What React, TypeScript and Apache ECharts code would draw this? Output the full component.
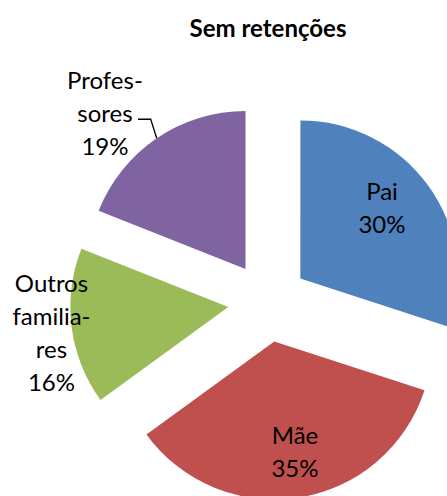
import React, { useEffect, useRef } from "react";
import * as echarts from "echarts";

const chartTitle = "Sem retenções";
const categories = ["Pai", "Mãe", "Outros familiares", "Professores"];
const labelTexts = ["Pai", "Mãe", "Outros\nfamilia-\nres", "Profes-\nsores"];
const percentages = [30, 35, 16, 19];
const colors = ["#4F81BD", "#C0504D", "#9BBB59", "#8064A2"];

// layout constants (not data)
const CX = 268;
const CY = 302;
const R = 158;
const OFFSET = 40;
// label placement: distance from pie centre and angular nudge from slice bisector
const labelPlace = [
  { dist: 148.7, nudge: -3.95, leader: false },
  { dist: 151.9, nudge: -1.24, leader: false },
  { dist: 218.5, nudge: -0.56, leader: false },
  { dist: 249.6, nudge: -6.58, leader: true },
];

function bisectorAngles(values: number[]): number[] {
  const total = values.reduce((a, b) => a + b, 0);
  let cum = 0;
  return values.map((v) => {
    const mid = cum + v / 2;
    cum += v;
    return (mid / total) * 360;
  });
}

function polar(deg: number, d: number, ox = CX, oy = CY): [number, number] {
  const a = (deg * Math.PI) / 180;
  return [ox + d * Math.sin(a), oy - d * Math.cos(a)];
}

export default function App() {
  const ref = useRef<HTMLDivElement>(null);
  useEffect(() => {
    if (!ref.current) return;
    const chart = echarts.init(ref.current, undefined, { renderer: "svg" });
    const bis = bisectorAngles(percentages);
    const font = "Lato";

    const graphics: any[] = [];
    labelPlace.forEach((p, i) => {
      const [x, y] = polar(bis[i] + p.nudge, p.dist);
      graphics.push({
        type: "text",
        z: 10,
        style: {
          text: `${labelTexts[i]}\n${percentages[i]}%`,
          x,
          y,
          align: "center",
          verticalAlign: "middle",
          textAlign: "center",
          textVerticalAlign: "middle",
          fontFamily: font,
          fontSize: 24,
          lineHeight: 33,
          fill: "#000",
        },
      });
      if (p.leader) {
        const apex = polar(bis[i], OFFSET);
        const end = polar(bis[i], R, apex[0], apex[1]);
        const mid: [number, number] = [end[0] - 6, end[1] - 19];
        const start: [number, number] = [x + 33, mid[1]];
        graphics.push({
          type: "polyline",
          z: 10,
          shape: { points: [start, mid, end] },
          style: { stroke: "#000", lineWidth: 1.3, fill: "none" },
        });
      }
    });

    chart.setOption({
      animation: false,
      title: {
        text: chartTitle,
        left: CX,
        top: 15,
        padding: 0,
        textAlign: "center",
        textStyle: { fontFamily: font, fontWeight: "bold", fontSize: 24, color: "#000" },
      },
      graphic: graphics,
      series: [
        {
          type: "pie",
          center: [CX, CY],
          radius: R,
          startAngle: 90,
          clockwise: true,
          selectedMode: "multiple",
          selectedOffset: OFFSET,
          avoidLabelOverlap: false,
          silent: true,
          emphasis: { disabled: true },
          select: { itemStyle: { borderWidth: 0 } },
          itemStyle: { borderWidth: 0 },
          label: { show: false },
          labelLine: { show: false },
          data: categories.map((name, i) => ({
            name,
            value: percentages[i],
            selected: true,
            itemStyle: { color: colors[i] },
            select: { itemStyle: { color: colors[i], borderWidth: 0 } },
          })),
        },
      ],
    });
    return () => chart.dispose();
  }, []);
  return (
    <div
      ref={ref}
      style={{ position: "absolute", left: 0, top: 0, width: 447, height: 496, background: "#fff" }}
    />
  );
}
